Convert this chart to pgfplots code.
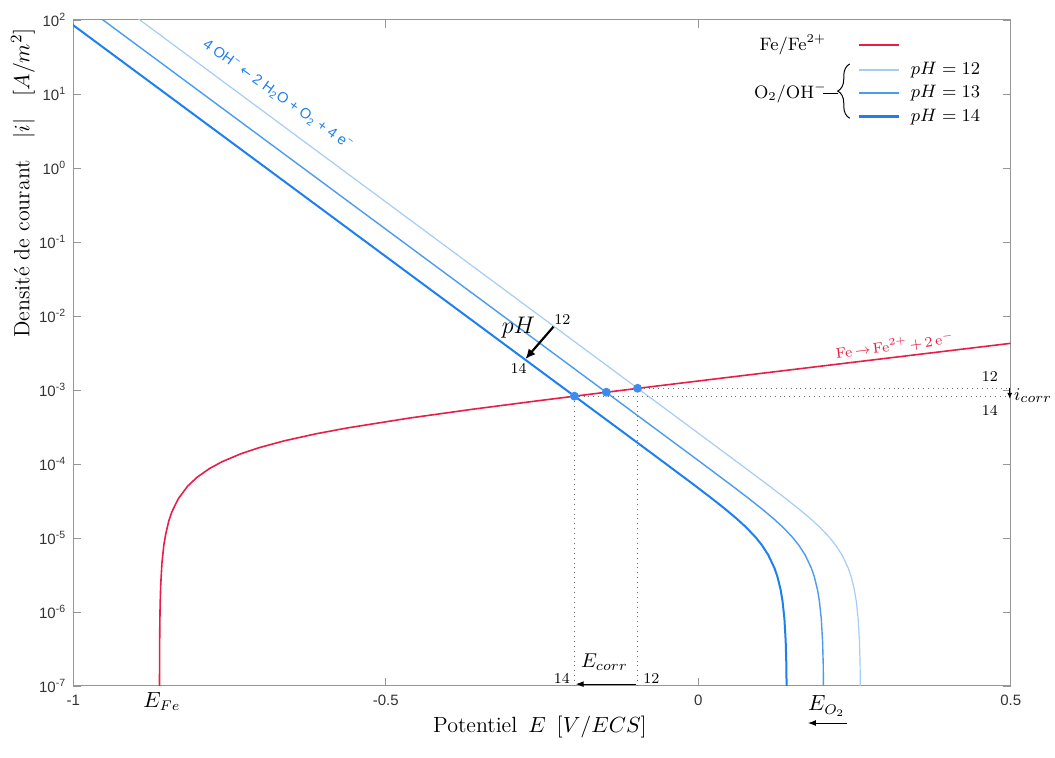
\documentclass[border=0pt]{standalone}
\usepackage{fontspec}
\usepackage{pgfplots}
\pgfplotsset{compat=1.18}
\usetikzlibrary{decorations.pathreplacing,arrows.meta}
\newfontfamily\helv{Liberation Sans}
\newfontfamily\dejavu{DejaVu Sans}
\definecolor{fered}{RGB}{232,30,72}
\definecolor{blA}{RGB}{30,128,240}
\definecolor{blB}{RGB}{75,155,240}
\definecolor{blC}{RGB}{165,205,245}
\definecolor{bldot}{RGB}{60,140,240}
\definecolor{axgray}{RGB}{150,150,150}
\definecolor{dotgray}{RGB}{110,110,110}
\newcommand{\fs}[1]{\fontsize{#1}{#1}\selectfont}
\begin{document}
\begin{tikzpicture}
\useasboundingbox (-36.6pt,-36pt) rectangle (490.9pt,343pt);
\begin{axis}[
  at={(0,0)}, anchor=south west,
  scale only axis, width=468.75pt, height=333pt,
  xmin=-1, xmax=0.5, ymode=log, log basis y=10, ymin=1e-7, ymax=1e2,
  clip mode=individual,
  axis line style={draw=axgray, line width=0.5pt},
  every tick/.style={axgray, line width=0.4pt},
  major tick length=4pt, minor tick length=2.2pt,
  tick align=inside,
  xtick={-1,-0.5,0,0.5}, xticklabels={-1,-0.5,0,0.5},
  ytickten={-7,-6,-5,-4,-3,-2,-1,0,1,2},
  yticklabel={\pgfmathparse{int(round(\tick))}10\textsuperscript{\pgfmathresult}},
  ticklabel style={font=\helv\fs{7.5}, text=black!80},
  xticklabel style={yshift=-1pt},
]
% Fe curve
\addplot[fered, line width=0.8pt] coordinates {
(-0.86192,9.24e-8)(-0.8617,3.46e-7)(-0.8615,5.77e-7)(-0.861,1.154e-6)(-0.860,2.305e-6)
(-0.858,4.602e-6)(-0.855,8.032e-6)(-0.852,1.1267e-5)(-0.847,1.709e-5)(-0.842,2.269e-5)
(-0.832,3.375e-5)(-0.817,5.003e-5)(-0.802,6.597e-5)(-0.782,8.677e-5)(-0.762,1.0716e-4)
(-0.732,1.3715e-4)(-0.702,1.6669e-4)(-0.662,2.0588e-4)(-0.612,2.5538e-4)(-0.562,3.0648e-4)
(-0.462,4.1772e-4)(-0.362,5.478e-4)(-0.262,7.053e-4)(-0.162,8.997e-4)(-0.062,1.1424e-3)
(0.038,1.4470e-3)(0.138,1.8306e-3)(0.238,2.3143e-3)(0.338,2.9248e-3)(0.438,3.6957e-3)(0.5,4.272e-3)};
% pH 12
\addplot[blC, line width=0.6pt] coordinates {
(0.2597,5.994e-8)(0.259,1.9955e-7)(0.258,3.984e-7)(0.256,7.946e-7)(0.253,1.3854e-6)(0.250,1.9732e-6)
(0.245,2.9501e-6)(0.240,3.9292e-6)(0.230,5.9185e-6)(0.220,7.9893e-6)(0.210,1.0192e-5)(0.195,1.3856e-5)
(0.180,1.8119e-5)(0.160,2.5105e-5)(0.135,3.680e-5)(0.110,5.3263e-5)(0.060,1.1008e-4)(0.010,2.2634e-4)
(-0.040,4.649e-4)(-0.090,9.548e-4)(-0.140,1.9606e-3)(-0.240,8.268e-3)(-0.340,3.4865e-2)(-0.540,0.62)
(-0.740,11.025)(-0.940,196.06)(-1.000,464.9)};
% pH 13
\addplot[blB, line width=0.7pt] coordinates {
(0.2007,5.994e-8)(0.200,1.9955e-7)(0.199,3.984e-7)(0.197,7.946e-7)(0.194,1.3854e-6)(0.191,1.9732e-6)
(0.186,2.9501e-6)(0.181,3.9292e-6)(0.171,5.9185e-6)(0.161,7.9893e-6)(0.151,1.0192e-5)(0.136,1.3856e-5)
(0.121,1.8119e-5)(0.101,2.5105e-5)(0.076,3.680e-5)(0.051,5.3263e-5)(0.001,1.1008e-4)(-0.049,2.2634e-4)
(-0.099,4.649e-4)(-0.149,9.548e-4)(-0.199,1.9606e-3)(-0.299,8.268e-3)(-0.399,3.4865e-2)(-0.599,0.62)
(-0.799,11.025)(-0.999,196.06)(-1.059,464.9)};
% pH 14
\addplot[blA, line width=1.0pt] coordinates {
(0.1417,5.994e-8)(0.141,1.9955e-7)(0.140,3.984e-7)(0.138,7.946e-7)(0.135,1.3854e-6)(0.132,1.9732e-6)
(0.127,2.9501e-6)(0.122,3.9292e-6)(0.112,5.9185e-6)(0.102,7.9893e-6)(0.092,1.0192e-5)(0.077,1.3856e-5)
(0.062,1.8119e-5)(0.042,2.5105e-5)(0.017,3.680e-5)(-0.008,5.3263e-5)(-0.058,1.1008e-4)(-0.108,2.2634e-4)
(-0.158,4.649e-4)(-0.208,9.548e-4)(-0.258,1.9606e-3)(-0.358,8.268e-3)(-0.458,3.4865e-2)(-0.658,0.62)
(-0.858,11.025)(-1.058,196.06)(-1.118,464.9)};
% dotted guides
\addplot[dotgray, dotted, line width=0.45pt] coordinates {(-0.198,1e-7)(-0.198,8.25e-4)(0.5,8.25e-4)};
\addplot[dotgray, dotted, line width=0.45pt] coordinates {(-0.097,1e-7)(-0.097,1.055e-3)(0.5,1.055e-3)};
% intersection points
\addplot[only marks, mark=*, mark size=2pt, mark options={fill=bldot, draw=bldot}] coordinates {
(-0.198,8.25e-4)(-0.147,9.33e-4)(-0.097,1.055e-3)};

% reaction labels
\node[rotate=-35.5, text=blA, font=\helv\fs{7.3}] at (axis cs:-0.673,9.6) {4 OH\textsuperscript{−} {\dejavu\fs{6.8}←} 2 H\textsubscript{2}O + O\textsubscript{2} + 4 e\textsuperscript{−}};
\node[rotate=7, text=fered, font=\fs{7.2}] at (axis cs:0.3147,4.0e-3) {Fe\,$\rightarrow$\,Fe$^{2+}$\,+\,2\,e$^-$};

% pH arrow
\draw[-{Latex[length=5pt,width=4.5pt]}, line width=1.1pt] (axis cs:-0.2316,7.16e-3) -- (axis cs:-0.2764,2.62e-3);
\node[font=\fs{11.5}] at (axis cs:-0.2875,6.9e-3) {$pH$};
\node[font=\fs{7.5}] at (axis cs:-0.2173,9.1e-3) {12};
\node[font=\fs{7.5}] at (axis cs:-0.2875,1.98e-3) {14};

% E_corr
\draw[-{Latex[length=4pt,width=3pt]}, line width=0.5pt] (axis cs:-0.099,1.06e-7) -- (axis cs:-0.196,1.06e-7);
\node[font=\fs{7.5}] at (axis cs:-0.2183,1.28e-7) {14};
\node[font=\fs{7.5}] at (axis cs:-0.0749,1.28e-7) {12};
\node[font=\fs{10}] at (axis cs:-0.150,2.13e-7) {$E_{corr}$};

% E_Fe, E_O2
\node[font=\fs{10.5}] at (axis cs:-0.858,6.14e-8) {$E_{Fe}$};
\node[font=\fs{10.5}] at (axis cs:0.2056,5.37e-8) {$E_{O_2}$};
\draw[-{Latex[length=4pt,width=3pt]}, line width=0.5pt] (axis cs:0.2375,3.16e-8) -- (axis cs:0.1756,3.16e-8);

% i_corr
\draw[-{Latex[length=3pt,width=2.5pt]}, line width=0.5pt] (axis cs:0.4985,1.055e-3) -- (axis cs:0.4985,7.6e-4);
\node[font=\fs{9.5}, anchor=west, inner sep=1pt] at (axis cs:0.5015,8.3e-4) {$i_{corr}$};
\node[font=\fs{7.5}] at (axis cs:0.4667,1.51e-3) {12};
\node[font=\fs{7.5}] at (axis cs:0.4667,5.37e-4) {14};

% legend
\node[font=\fs{9}] at (axis cs:0.1515,45.9) {Fe/Fe$^{2+}$};
\draw[fered, line width=1.2pt] (axis cs:0.2570,45.9) -- (axis cs:0.3210,45.9);
\node[font=\fs{9}] at (axis cs:0.1475,10.3) {O$_2$/OH$^-$};
\draw[line width=0.5pt] (axis cs:0.1995,10.3) -- (axis cs:0.2235,10.3);
\draw[decorate, decoration={brace, amplitude=6pt}, line width=0.5pt] (axis cs:0.2425,4.7) -- (axis cs:0.2425,25.5);
\draw[blC, line width=0.8pt] (axis cs:0.2570,21.1) -- (axis cs:0.3210,21.1);
\draw[blB, line width=0.9pt] (axis cs:0.2570,10.2) -- (axis cs:0.3210,10.2);
\draw[blA, line width=1.4pt] (axis cs:0.2570,4.93) -- (axis cs:0.3210,4.93);
\node[font=\fs{9}, anchor=west] at (axis cs:0.3290,21.1) {$pH = 12$};
\node[font=\fs{9}, anchor=west] at (axis cs:0.3290,10.2) {$pH = 13$};
\node[font=\fs{9}, anchor=west] at (axis cs:0.3290,4.93) {$pH = 14$};
\end{axis}
\node[rotate=90, font=\fs{11}] at (-25.1pt,251.5pt) {Densité de courant\quad$|i|$\quad$[A/m^2]$};
\node[font=\fs{11}] at (233.4pt,-20.5pt) {Potentiel\enspace$E$\enspace$[V/ECS]$};
\end{tikzpicture}
\end{document}
